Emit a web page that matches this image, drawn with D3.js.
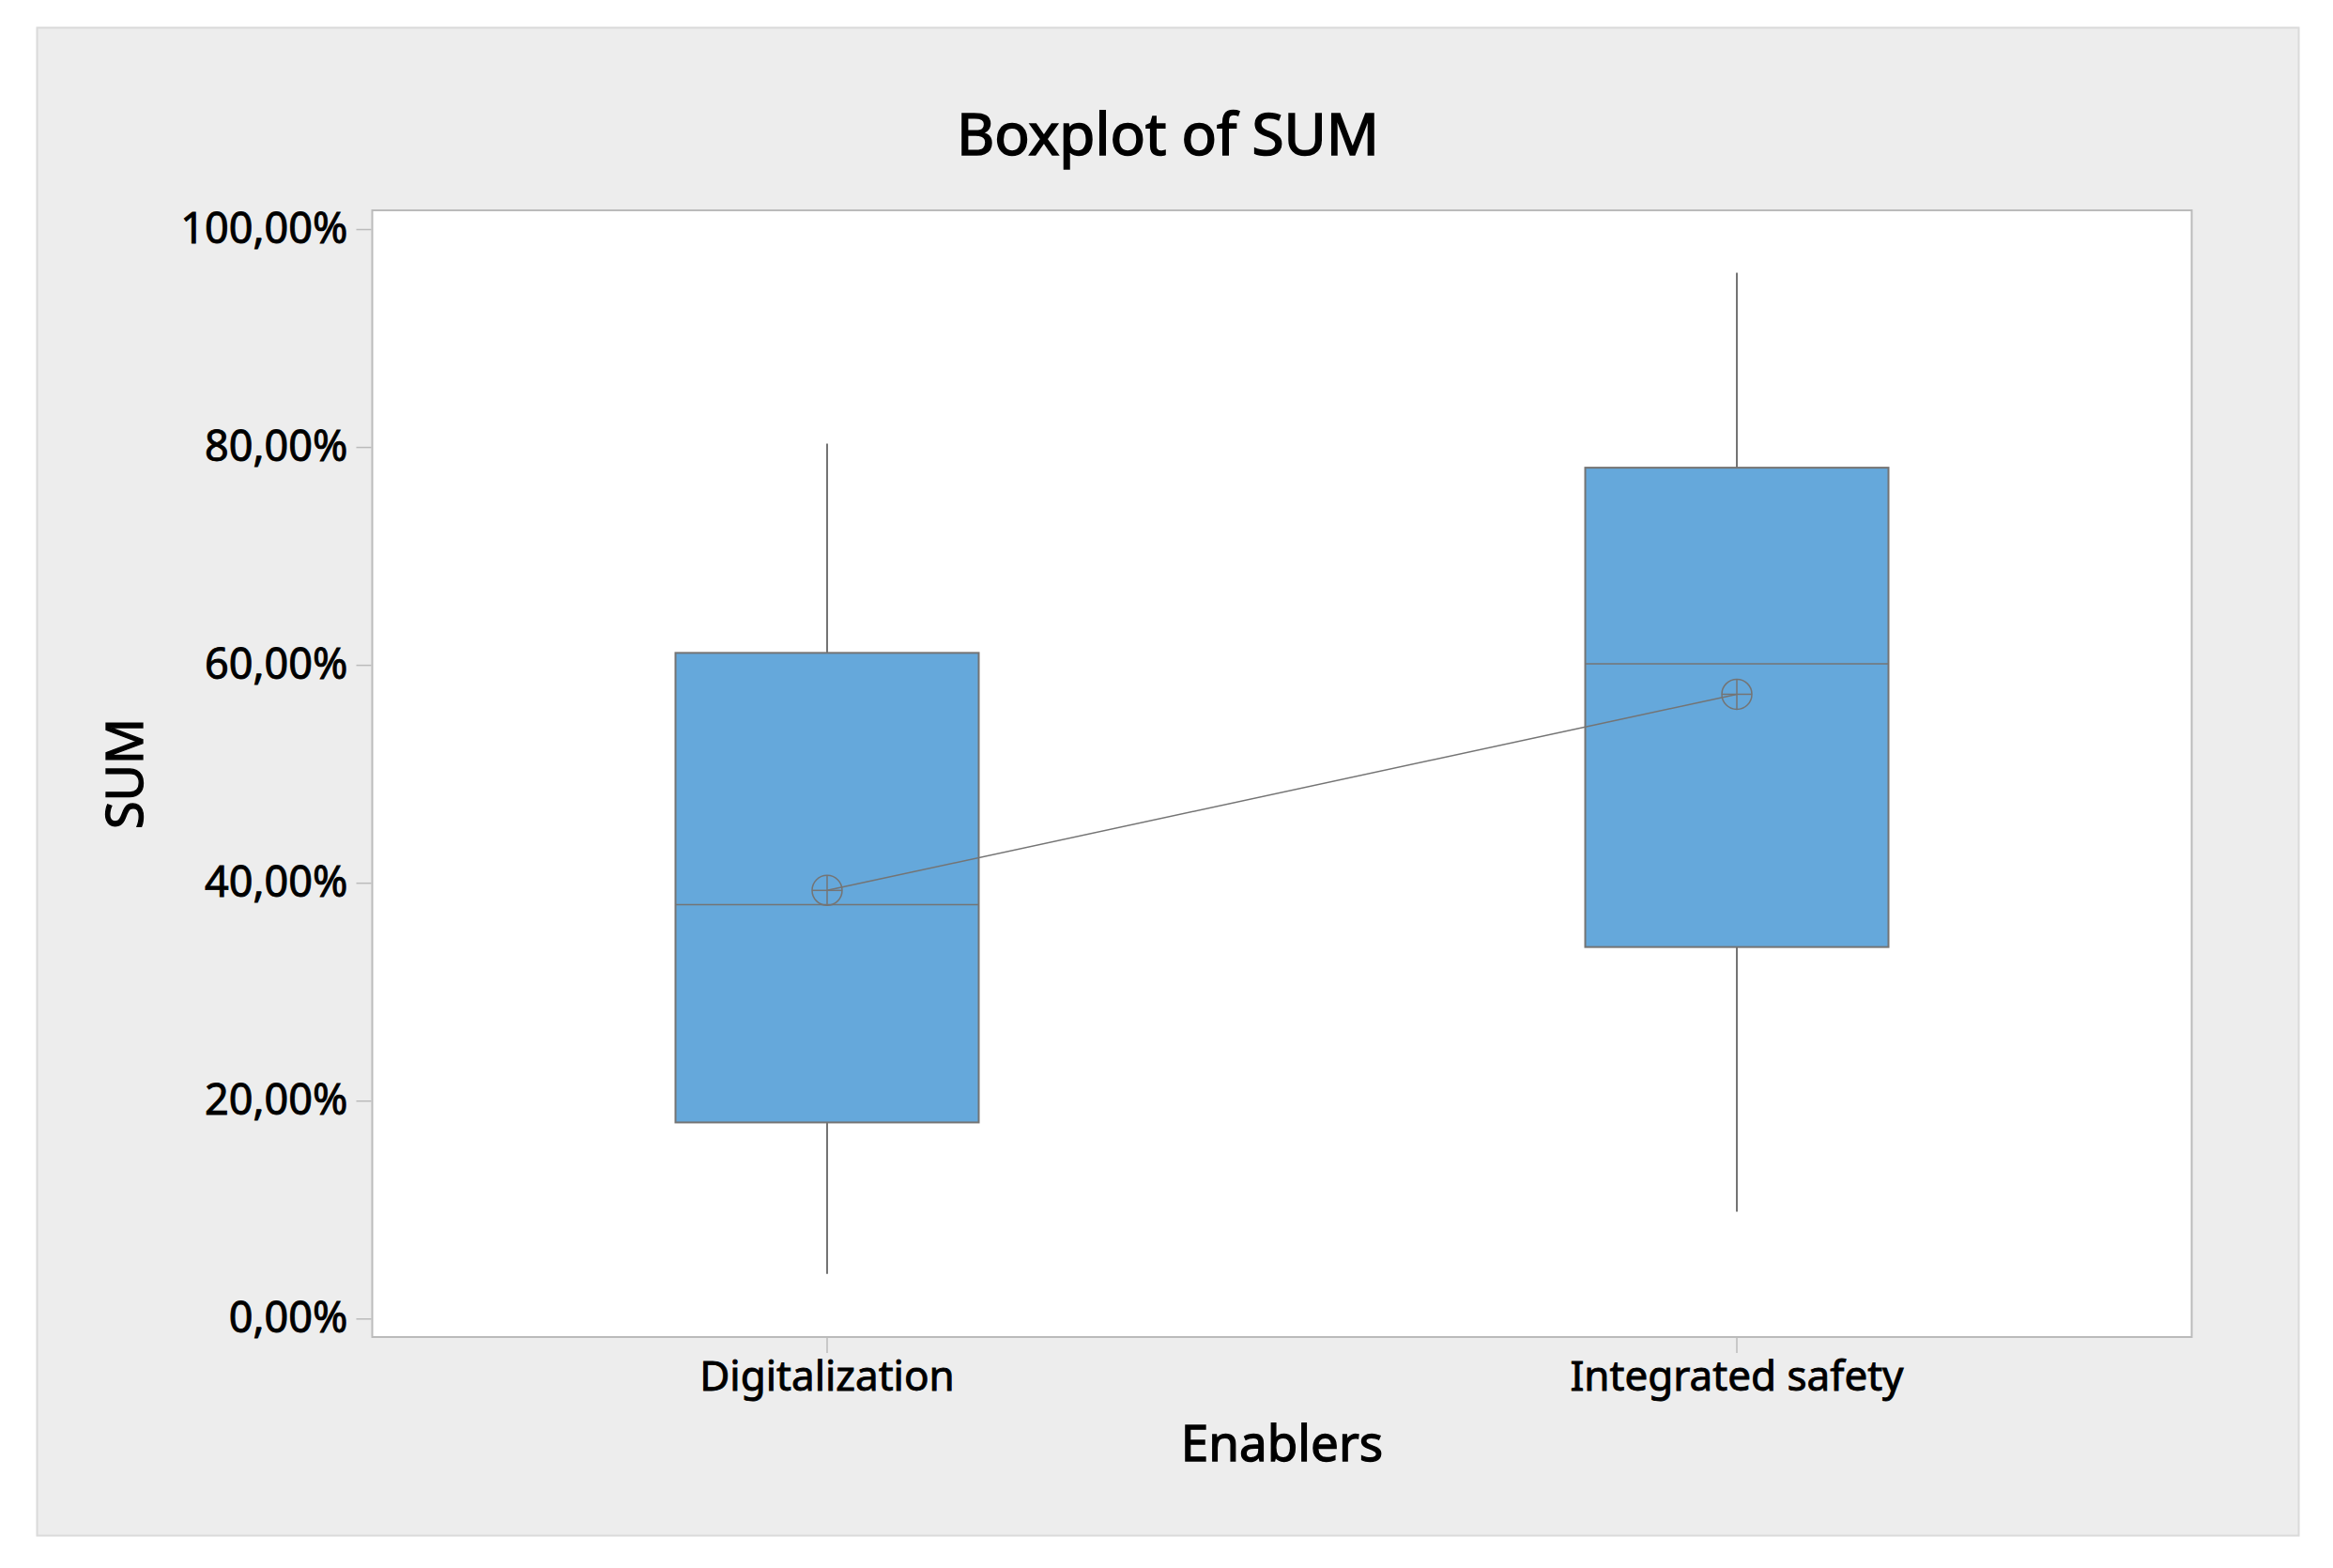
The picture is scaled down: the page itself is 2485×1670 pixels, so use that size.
<!DOCTYPE html>
<html>
<head>
<meta charset="UTF-8">
<title>Boxplot of SUM</title>
<script src="https://d3js.org/d3.v7.min.js"></script>
<style>
  body { margin: 0; background: #fff; }
  text { font-family: "Noto Sans", "Open Sans", sans-serif; fill: #000; stroke: #000; stroke-width: 0.9px; }
  .axis .domain { display: none; }
  .axis line { stroke: #bbb; stroke-width: 1.5; }
  .axis text { font-size: 45px; }
  .xaxis text { font-size: 44px; }
</style>
</head>
<body>
<svg width="2485" height="1670"></svg>
<script>
// values (fractions of 1)
var categories = ["Digitalization", "Integrated safety"];
var whiskerLow = [0.041, 0.098];
var q1 = [0.180, 0.341];
var median = [0.380, 0.601];
var q3 = [0.611, 0.781];
var whiskerHigh = [0.803, 0.960];
var means = [0.393, 0.573];
var yTicks = [0, 0.2, 0.4, 0.6, 0.8, 1];

var svg = d3.select("svg");

// outer grey panel
svg.append("rect")
  .attr("x", 39.5).attr("y", 29.5)
  .attr("width", 2409).attr("height", 1606)
  .attr("fill", "#ededed")
  .attr("stroke", "#dadada").attr("stroke-width", 2);

var plot = { left: 396.5, top: 224, right: 2334.5, bottom: 1424 };

var x = d3.scaleBand()
  .domain(categories)
  .range([plot.left, plot.right])
  .padding(0);

var y = d3.scaleLinear()
  .domain([0, 1])
  .range([1404.3, 244]);

var locale = d3.formatLocale({ decimal: ",", thousands: ".", grouping: [3], currency: ["", "€"] });
var fmt = locale.format(".2%");

// white plot area
svg.append("rect")
  .attr("x", plot.left).attr("y", plot.top)
  .attr("width", plot.right - plot.left).attr("height", plot.bottom - plot.top)
  .attr("fill", "#fff")
  .attr("stroke", "#bbb").attr("stroke-width", 2);

svg.append("g")
  .attr("class", "axis")
  .attr("transform", "translate(" + (plot.left - 1) + ",0)")
  .call(d3.axisLeft(y).tickValues(yTicks).tickFormat(fmt).tickSize(16).tickPadding(9));

svg.append("g")
  .attr("class", "axis xaxis")
  .attr("transform", "translate(0," + (plot.bottom + 1) + ")")
  .call(d3.axisBottom(x).tickSize(16).tickPadding(9));

// title and axis labels
svg.append("text")
  .attr("x", 1244).attr("y", 165)
  .attr("text-anchor", "middle")
  .attr("font-size", "62px")
  .style("stroke-width", "1.6px")
  .text("Boxplot of SUM");

svg.append("text")
  .attr("x", (plot.left + plot.right) / 2).attr("y", 1556)
  .attr("text-anchor", "middle")
  .attr("font-size", "53px")
  .style("stroke-width", "1.3px")
  .text("Enablers");

svg.append("text")
  .attr("transform", "translate(152," + ((plot.top + plot.bottom) / 2) + ") rotate(-90)")
  .attr("text-anchor", "middle")
  .attr("font-size", "54px")
  .style("stroke-width", "1.3px")
  .text("SUM");

var boxW = x.bandwidth() / 3;
var cx = function(i) { return x(categories[i]) + x.bandwidth() / 2; };
var idx = d3.range(categories.length);
var grey = "#747474";

var g = svg.append("g");

// whiskers
g.selectAll(".wlo").data(idx).enter().append("line")
  .attr("x1", cx).attr("x2", cx)
  .attr("y1", function(i) { return y(whiskerLow[i]); })
  .attr("y2", function(i) { return y(q1[i]); })
  .attr("stroke", grey).attr("stroke-width", 2);

g.selectAll(".whi").data(idx).enter().append("line")
  .attr("x1", cx).attr("x2", cx)
  .attr("y1", function(i) { return y(whiskerHigh[i]); })
  .attr("y2", function(i) { return y(q3[i]); })
  .attr("stroke", grey).attr("stroke-width", 2);

// boxes
g.selectAll(".box").data(idx).enter().append("rect")
  .attr("x", function(i) { return cx(i) - boxW / 2; })
  .attr("y", function(i) { return y(q3[i]); })
  .attr("width", boxW)
  .attr("height", function(i) { return y(q1[i]) - y(q3[i]); })
  .attr("fill", "#65a8db")
  .attr("stroke", grey).attr("stroke-width", 2);

// medians
g.selectAll(".med").data(idx).enter().append("line")
  .attr("x1", function(i) { return cx(i) - boxW / 2; })
  .attr("x2", function(i) { return cx(i) + boxW / 2; })
  .attr("y1", function(i) { return y(median[i]); })
  .attr("y2", function(i) { return y(median[i]); })
  .attr("stroke", grey).attr("stroke-width", 1.5);

// mean connect line
g.append("path")
  .attr("d", d3.line().x(function(i) { return cx(i); }).y(function(i) { return y(means[i]); })(idx))
  .attr("fill", "none")
  .attr("stroke", grey).attr("stroke-width", 1.5);

// mean symbols (circle with cross)
var r = 16;
var sym = g.selectAll(".mean").data(idx).enter().append("g")
  .attr("transform", function(i) { return "translate(" + cx(i) + "," + y(means[i]) + ")"; });
sym.append("circle").attr("r", r).attr("fill", "none").attr("stroke", grey).attr("stroke-width", 1.5);
sym.append("line").attr("x1", -r).attr("x2", r).attr("stroke", grey).attr("stroke-width", 1.5);
sym.append("line").attr("y1", -r).attr("y2", r).attr("stroke", grey).attr("stroke-width", 1.5);
</script>
</body>
</html>
